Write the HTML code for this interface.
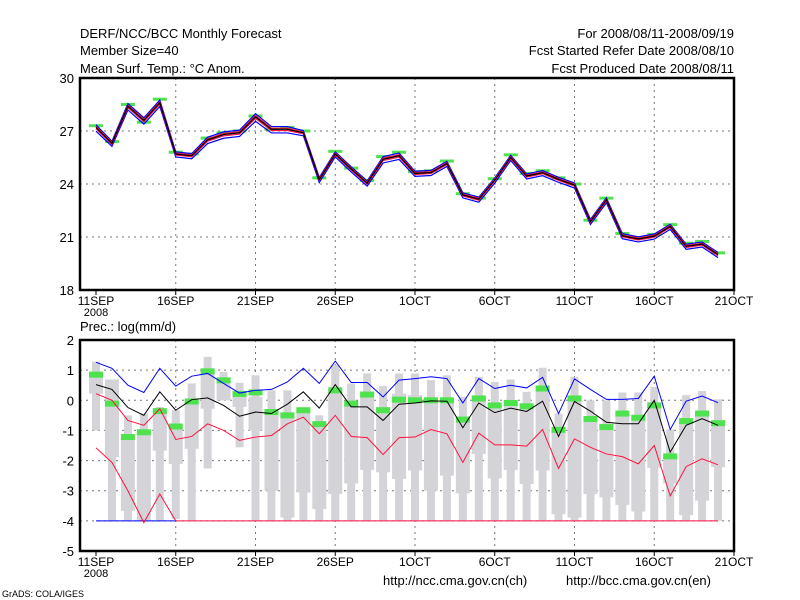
<!DOCTYPE html>
<html><head><meta charset="utf-8"><style>
body{margin:0;background:#fff;}
svg{display:block;font-family:"Liberation Sans",sans-serif;}
</style></head><body>
<svg id="c" width="800" height="600">
<text x="80" y="38" font-size="13">DERF/NCC/BCC Monthly Forecast</text>
<text x="80" y="55" font-size="13">Member Size=40</text>
<text x="80" y="73" font-size="13">Mean Surf. Temp.: °C Anom.</text>
<text x="734" y="38" font-size="13" text-anchor="end">For 2008/08/11-2008/09/19</text>
<text x="734" y="55" font-size="13" text-anchor="end">Fcst Started Refer Date 2008/08/10</text>
<text x="734" y="73" font-size="13" text-anchor="end">Fcst Produced Date 2008/08/11</text>
<text x="80" y="331" font-size="13">Prec.: log(mm/d)</text>
<text x="383" y="585" font-size="13">http://ncc.cma.gov.cn(ch)</text>
<text x="566" y="585" font-size="13">http://bcc.cma.gov.cn(en)</text>
<text x="2" y="597" font-size="9">GrADS: COLA/IGES</text>
</svg>
<script>
const xTickLabels=["11SEP","16SEP","21SEP","26SEP","1OCT","6OCT","11OCT","16OCT","21OCT"];
const topTicks=[18,21,24,27,30];
const botTicks=[-5,-4,-3,-2,-1,0,1,2];
const topMean=[27.2,26.3,28.4,27.6,28.6,25.7,25.6,26.5,26.8,26.9,27.8,27.1,27.1,26.9,24.25,25.7,24.85,24.05,25.4,25.6,24.6,24.65,25.16,23.38,23.14,24.22,25.5,24.45,24.64,24.26,23.94,21.88,23.1,21.07,20.89,21.05,21.6,20.47,20.6,20.0];
const topObs=[27.3,26.4,28.5,27.5,28.8,25.8,25.7,26.6,26.9,27.0,27.85,27.1,27.2,27.0,24.35,25.85,24.9,24.2,25.55,25.8,24.7,24.75,25.3,23.45,23.2,24.3,25.65,24.6,24.75,24.35,24.0,21.95,23.2,21.2,20.95,21.15,21.7,20.65,20.75,20.1];
const topSpread=[0.15,0.12,0.15,0.15,0.15,0.12,0.12,0.15,0.15,0.15,0.18,0.15,0.15,0.12,0.12,0.12,0.12,0.12,0.15,0.15,0.12,0.12,0.12,0.12,0.12,0.12,0.12,0.12,0.12,0.12,0.12,0.12,0.12,0.12,0.12,0.12,0.12,0.12,0.12,0.12];
// precipitation (zoom-read pixel estimates converted to values below)
const pBlue=[1.26,1.06,0.5,0.26,1.06,0.47,0.8,0.89,0.56,0.24,0.33,0.36,0.61,1.06,0.56,1.3,0.59,0.59,0.11,0.67,0.72,0.78,0.72,-0.09,0.72,0.39,0.5,0.41,0.76,-0.44,0.71,0.36,0.03,0.03,0.06,0.8,-0.97,-0.03,0.14,-0.08];
const pMean=[0.52,0.36,-0.24,-0.5,0.28,-0.33,0.02,0.08,-0.17,-0.53,-0.39,-0.44,-0.13,0.28,-0.26,0.52,-0.22,-0.22,-0.67,-0.13,-0.09,-0.02,-0.03,-0.91,-0.09,-0.41,-0.26,-0.37,-0.03,-1.2,-0.04,-0.36,-0.73,-0.78,-0.78,-0.0,-1.72,-0.83,-0.61,-0.83];
const pRedHi=[0.22,0.0,-0.67,-0.83,-0.28,-1.3,-1.2,-0.78,-1.0,-1.33,-1.22,-1.17,-0.78,-0.56,-1.11,-0.5,-1.2,-1.24,-1.8,-1.24,-1.22,-0.97,-1.11,-2.06,-1.09,-1.48,-1.48,-1.52,-0.97,-2.26,-1.28,-1.56,-1.78,-1.87,-2.11,-1.5,-3.17,-2.2,-1.94,-2.14];
const pRedLo=[-1.58,-2.06,-3.0,-4.06,-3.11,-4.0,-4,-4,-4,-4,-4,-4,-4,-4,-4,-4,-4,-4,-4,-4,-4,-4,-4,-4,-4,-4,-4,-4,-4,-4,-4,-4,-4,-4,-4,-4,-4,-4,-4,-4];
const pMax=[1.28,0.69,-0.5,-0.44,-0.22,-0.33,0.56,1.44,0.94,0.58,0.83,0.33,0.33,-0.33,-0.5,1.17,0.56,0.89,0.47,0.89,0.89,0.67,0.83,0.11,0.78,0.61,0.69,0.28,1.08,-0.44,0.78,0.0,0.0,0.26,0.26,0.44,-0.97,0.17,0.31,0.03];
const pQ3=[0.89,0.69,-1.22,-1.06,-0.33,-0.89,0.0,1.0,0.67,0.22,0.11,-0.33,-0.44,-0.33,-0.72,0.39,-0.11,0.22,-0.22,0.22,0.17,0.06,0.06,-0.61,0.06,-0.17,-0.09,-0.2,0.39,-0.98,0.06,-0.62,-0.78,-0.44,-0.58,-0.17,-1.86,-0.69,-0.44,-0.76];
const pQ1=[0.22,-1.89,-3.67,-4.0,-1.67,-2.11,-1.61,-0.28,0.0,-0.22,-1.0,-3.0,-3.89,-3.06,-3.61,-3.11,-2.76,-2.31,-2.39,-2.61,-2.33,-3.0,-2.5,-3.09,-1.78,-2.59,-2.31,-2.78,-2.33,-3.78,-3.89,-3.11,-3.22,-3.47,-3.69,-2.24,-2.76,-3.81,-3.33,-2.22];
const pMin=[-1.0,-4,-4,-4,-4,-3.94,-4,-2.26,0.0,-1.56,-4,-4,-4,-4,-4,-4,-4,-4,-4,-4,-4,-4,-4,-4,-4,-4,-4,-4,-4,-4,-4,-4,-4,-4,-4,-4,-4,-4,-4,-4];
const pObs=[0.85,-0.11,-1.22,-1.06,-0.36,-0.87,-0.04,0.96,0.66,0.21,0.26,-0.39,-0.5,-0.33,-0.79,0.33,-0.11,0.19,-0.33,0.02,0.0,0.0,0.0,-0.64,0.06,-0.17,-0.09,-0.2,0.39,-0.98,0.06,-0.62,-0.89,-0.44,-0.58,-0.17,-1.86,-0.69,-0.44,-0.76];

const svg=document.getElementById('c');const NS='http://www.w3.org/2000/svg';
function mk(t,a,p){const e=document.createElementNS(NS,t);for(const k in a)e.setAttribute(k,a[k]);(p||svg).appendChild(e);return e;}
const X=d=>96+d*15.95;
const L=80,R=734;
function panel(y0,y1,vmin,vmax,ticks,name){
  const Y=v=>y1-(v-vmin)/(vmax-vmin)*(y1-y0);
  const g=mk('g',{});
  
  
  ticks.forEach(t=>{
    if(t>vmin&&t<vmax){const l=mk('line',{x1:L,x2:R,y1:Y(t),y2:Y(t),stroke:'#777','stroke-dasharray':'2,4'},g);
    
    }
    const tx=mk('text',{x:L-6,y:Y(t)+5,'font-size':13,'text-anchor':'end'},g);tx.textContent=t;
    
    
  });
  xTickLabels.forEach((s,i)=>{
    const x=X(i*5);
    if(i>0&&i<8){const l=mk('line',{x1:x,x2:x,y1:y0,y2:y1,stroke:'#777','stroke-dasharray':'2,4'},g);
    
    }
    mk('line',{x1:x,x2:x,y1:y1,y2:y1+5,stroke:'#000'},g);
    const tx=mk('text',{x:x,y:y1+15,'font-size':12,'text-anchor':'middle'},g);tx.textContent=s;
    
    
  });
  const yr=mk('text',{x:X(0),y:y1+26,'font-size':11,'text-anchor':'middle'},g);yr.textContent='2008';
  
  
  return {g,Y,y0,y1};
}
function frame(p){const r=mk('rect',{x:L,y:p.y0,width:R-L,height:p.y1-p.y0,fill:'none',stroke:'#000','stroke-width':2.5});

}
function line(vals,Y,col,w,name){const pts=vals.map((v,i)=>X(i)+','+Y(v)).join(' ');
const e=mk('polyline',{points:pts,fill:'none',stroke:col,'stroke-width':w});

return e;}

// top panel
const T=panel(78,290,18,30,topTicks,'temperature-panel');
topObs.forEach((v,i)=>{const r=mk('rect',{x:X(i)-7,y:T.Y(v)-1.5,width:14,height:3,fill:'#4ee24e'});

});
line(topMean.map((v,i)=>v+topSpread[i]),T.Y,'#0000ff',1.2,'temp-blue-upper');
line(topMean.map((v,i)=>v-topSpread[i]*1.4),T.Y,'#0000ff',1.2,'temp-blue-lower');
line(topMean.map((v,i)=>v+topSpread[i]*0.4),T.Y,'#ff1040',1.2,'temp-red-upper');
line(topMean.map((v,i)=>v-topSpread[i]*0.5),T.Y,'#ff1040',1.2,'temp-red-lower');
line(topMean,T.Y,'#000',1.3,'temp-mean-line');
frame(T);

// bottom panel
const B=panel(340,551,-5,2,botTicks,'precip-panel');
pMax.forEach((v,i)=>{
  const a=mk('rect',{x:X(i)-4,y:B.Y(v),width:8,height:Math.max(1,B.Y(pMin[i])-B.Y(v)),fill:'#d4d4d8'});
  
  
  const b=mk('rect',{x:X(i)-7,y:B.Y(pQ3[i]),width:14,height:Math.max(1,B.Y(pQ1[i])-B.Y(pQ3[i])),fill:'#d4d4d8'});
  
  
});
pObs.forEach((v,i)=>{const r=mk('rect',{x:X(i)-7,y:B.Y(v)-3,width:14,height:6,fill:'#4ee24e'});

});
const fl=mk('line',{x1:X(0),x2:X(5),y1:B.Y(-4),y2:B.Y(-4),stroke:'#0000ff'});


line(pRedLo,B.Y,'#ff1040',1,'precip-red-lower');
line(pRedHi,B.Y,'#ff1040',1,'precip-red-upper');
line(pBlue,B.Y,'#0000ff',1,'precip-blue-max');
line(pMean,B.Y,'#000',1,'precip-mean-line');
frame(B);
</script>
</body></html>
